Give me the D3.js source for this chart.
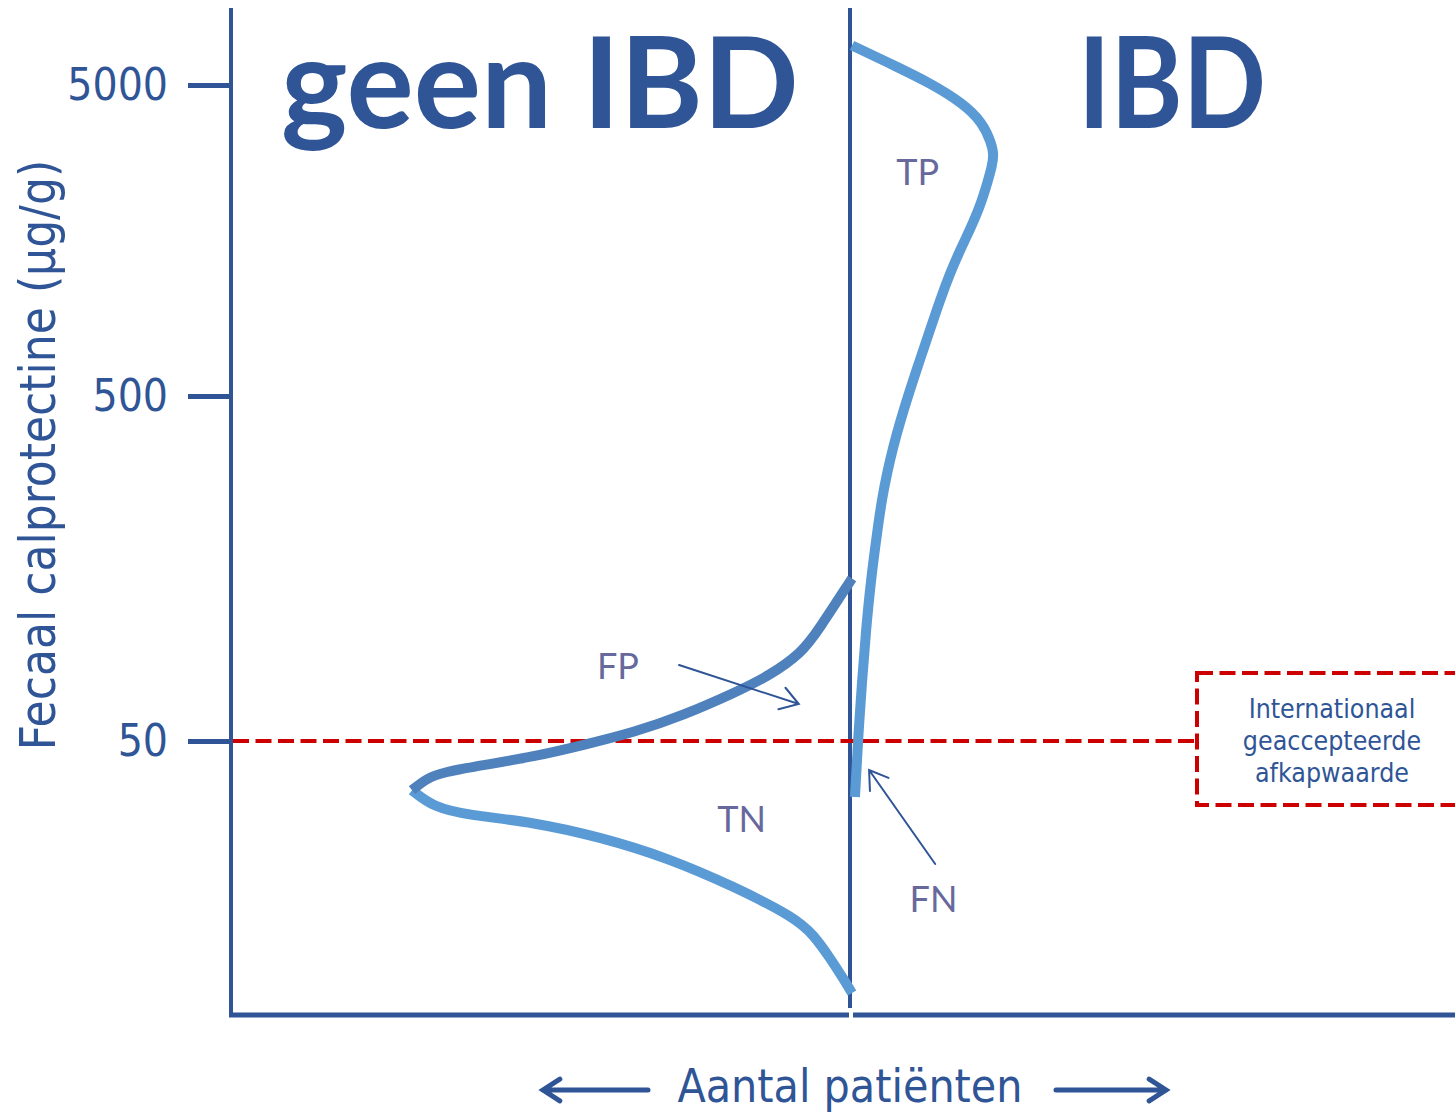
<!DOCTYPE html>
<html>
<head>
<meta charset="utf-8">
<script src="https://cdn.jsdelivr.net/npm/d3@7"></script>
<style>
  body { margin: 0; background: #fff; }
  svg { display: block; }
</style>
</head>
<body>
<svg id="chart" width="1455" height="1113"></svg>
<script>
// Calprotectin values (µg/g) and relative patient counts
var tickValues = [50, 500, 5000];
var cutoff = 50;

// geen IBD: upper (darker) branch, from the centre line down to the peak
var noIbdUpperValue = [148, 105, 90, 77, 69, 59.5, 53, 48.7, 45, 42.6, 40.6, 39, 36];
var noIbdUpperCount = [0, 7.6, 11.4, 19.0, 26.7, 38.1, 49.5, 61.0, 72.4, 83.8, 92.9, 96.6, 100];

// geen IBD: lower (lighter) branch, from the peak down to the centre line
var noIbdLowerValue = [36, 32.2, 30.5, 29.1, 26.3, 22.9, 18.9, 15.4, 13.7, 11.75, 10.15, 9.3];
var noIbdLowerCount = [100, 95.2, 87.4, 72.4, 57.1, 41.8, 26.7, 13.0, 8.7, 5.0, 1.8, 0];

// IBD
var ibdValue = [6700, 5726, 5074, 4375, 3773, 3254, 2980, 2724, 2475, 2026, 1710, 1474, 1243, 1017, 815, 653, 522,
    426, 356, 299, 250, 204, 146, 105, 75, 50.3, 34.4];
var ibdCount = [0, 10.2, 17.8, 25.3, 29.9, 31.8, 32.4, 31.9, 31.1, 29.2, 26.9, 24.7, 22.4, 20.1, 17.8, 15.5, 13.2,
    11.1, 9.4, 8.0, 6.8, 5.8, 4.3, 3.2, 2.3, 1.37, 0.68];

var blue = "#2f5597",
    curveLight = "#5b9bd5",
    curveDark = "#4f81bd",
    labelColor = "#67699d",
    red = "#cc0000";

var svg = d3.select("#chart"),
    axisX = 231,
    centerX = 850,
    baseY = 1015;

// log scale, piecewise so the ticks land where the picture has them
var y = d3.scaleLog()
    .domain(tickValues)
    .range([741, 396, 85]);

// patient counts, mirrored around the centre line
var xLeft = d3.scaleLinear().domain([0, 100]).range([centerX + 2, 412]);
var xRight = d3.scaleLinear().domain([0, 100]).range([centerX + 2, 1290]);

// Axes lines
svg.append("line")
    .attr("x1", axisX).attr("x2", axisX)
    .attr("y1", 8).attr("y2", baseY + 2)
    .attr("stroke", blue).attr("stroke-width", 4);

svg.append("line")
    .attr("x1", centerX).attr("x2", centerX)
    .attr("y1", 8).attr("y2", 1008)
    .attr("stroke", blue).attr("stroke-width", 4);

svg.append("line")
    .attr("x1", axisX - 2).attr("x2", centerX - 1)
    .attr("y1", baseY).attr("y2", baseY)
    .attr("stroke", blue).attr("stroke-width", 5);

svg.append("line")
    .attr("x1", centerX + 3).attr("x2", 1455)
    .attr("y1", baseY).attr("y2", baseY)
    .attr("stroke", blue).attr("stroke-width", 5);

// y axis ticks
var yAxis = svg.append("g")
    .attr("transform", "translate(" + (axisX - 2) + ",0)")
    .call(d3.axisLeft(y).tickValues(tickValues).tickSize(41).tickPadding(20).tickFormat(d3.format("d")));

yAxis.select(".domain").remove();
yAxis.selectAll(".tick line").attr("stroke", blue).attr("stroke-width", 5);
yAxis.selectAll(".tick text")
    .attr("fill", blue)
    .attr("font-family", "'DejaVu Sans Condensed', sans-serif")
    .attr("font-size", 44);

// y axis title
svg.append("text")
    .attr("transform", "translate(55,455) rotate(-90)")
    .attr("text-anchor", "middle")
    .attr("fill", blue)
    .attr("font-family", "'DejaVu Sans Condensed', sans-serif")
    .attr("font-size", 49)
    .text("Fecaal calprotectine (µg/g)");

// Headings
svg.append("text")
    .attr("x", 281).attr("y", 128)
    .attr("fill", blue)
    .attr("font-family", "Lato, sans-serif")
    .attr("font-weight", "bold")
    .attr("font-size", 126)
    .text("geen IBD");

svg.append("text")
    .attr("x", 1078).attr("y", 128)
    .attr("fill", blue)
    .attr("font-family", "Lato, sans-serif")
    .attr("font-weight", "bold")
    .attr("font-size", 126)
    .attr("textLength", 188)
    .attr("lengthAdjust", "spacingAndGlyphs")
    .text("IBD");

// Cut-off line and its box
var dash = "16 6.5";
svg.append("line")
    .attr("x1", axisX + 2).attr("x2", 1197)
    .attr("y1", y(cutoff)).attr("y2", y(cutoff))
    .attr("stroke", red).attr("stroke-width", 4)
    .attr("stroke-dasharray", dash);

svg.append("rect")
    .attr("x", 1197).attr("y", 673)
    .attr("width", 300).attr("height", 132)
    .attr("fill", "none")
    .attr("stroke", red).attr("stroke-width", 4)
    .attr("stroke-dasharray", dash);

svg.append("text")
    .attr("x", 1332).attr("y", 718)
    .attr("text-anchor", "middle")
    .attr("fill", blue)
    .attr("font-family", "'DejaVu Sans Condensed', sans-serif")
    .attr("font-size", 26.5)
    .selectAll("tspan")
    .data(["Internationaal", "geaccepteerde", "afkapwaarde"])
    .enter().append("tspan")
    .attr("x", 1332)
    .attr("dy", function (d, i) { return i === 0 ? 0 : 32; })
    .text(function (d) { return d; });

// Distribution curves
var line = d3.line().curve(d3.curveBasis);

function drawCurve(values, counts, xs, color) {
    var pts = values.map(function (v, i) { return [xs(counts[i]), y(v)]; });
    svg.append("path")
        .attr("d", line(pts))
        .attr("fill", "none")
        .attr("stroke", color)
        .attr("stroke-width", 10)
        .attr("stroke-linecap", "butt");
}

drawCurve(noIbdLowerValue, noIbdLowerCount, xLeft, curveLight);
drawCurve(noIbdUpperValue, noIbdUpperCount, xLeft, curveDark);
drawCurve(ibdValue, ibdCount, xRight, curveLight);

// Quadrant labels
var labels = [
    { text: "TP", x: xRight(15), v: 2385 },
    { text: "FP", x: xLeft(53.2), v: 75.6 },
    { text: "TN", x: xLeft(25.1), v: 27.2 },
    { text: "FN", x: xRight(18.6), v: 16 }
];

svg.selectAll(".qlabel")
    .data(labels)
    .enter().append("text")
    .attr("class", "qlabel")
    .attr("x", function (d) { return d.x; })
    .attr("y", function (d) { return y(d.v); })
    .attr("text-anchor", "middle")
    .attr("fill", labelColor)
    .attr("font-family", "Lato, sans-serif")
    .attr("font-size", 36)
    .text(function (d) { return d.text; });

// Thin pointer arrows
function arrow(x1, y1, x2, y2, head, width) {
    var a = Math.atan2(y2 - y1, x2 - x1),
        s = Math.PI / 5.5;
    var p = "M" + x1 + "," + y1 + "L" + x2 + "," + y2 +
        "M" + (x2 - head * Math.cos(a - s)) + "," + (y2 - head * Math.sin(a - s)) +
        "L" + x2 + "," + y2 +
        "L" + (x2 - head * Math.cos(a + s)) + "," + (y2 - head * Math.sin(a + s));
    svg.append("path")
        .attr("d", p)
        .attr("fill", "none")
        .attr("stroke", blue)
        .attr("stroke-width", width)
        .attr("stroke-linecap", "round")
        .attr("stroke-linejoin", "miter");
}

arrow(xLeft(39.3), y(83), xLeft(12.1), y(64), 21, 2);
arrow(xRight(19), y(22), xRight(3.9), y(41.2), 21, 2);

// x axis title with arrows
svg.append("text")
    .attr("x", centerX).attr("y", 1102)
    .attr("text-anchor", "middle")
    .attr("fill", blue)
    .attr("font-family", "'DejaVu Sans Condensed', sans-serif")
    .attr("font-size", 46)
    .text("Aantal patiënten");

arrow(648, 1090, 543, 1090, 20, 5);
arrow(1056, 1090, 1166, 1090, 20, 5);
</script>
</body>
</html>
